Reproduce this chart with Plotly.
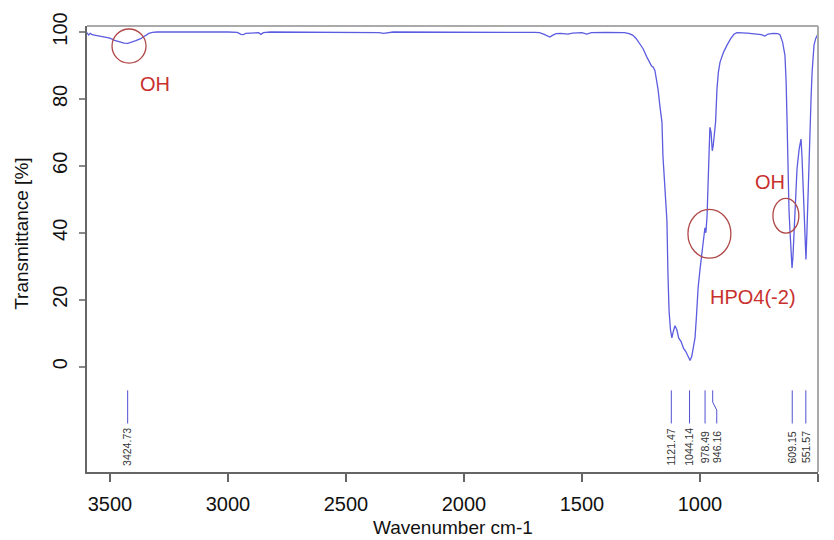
import plotly.graph_objects as go

# Spectrum (wavenumber cm-1, transmittance %)
wavenumber = [3597, 3590, 3583, 3575, 3560, 3540, 3520, 3500, 3480, 3460, 3440, 3424, 3410, 3390,
              3370, 3350, 3335, 3320, 3300, 3000, 2960, 2945, 2935, 2925, 2900, 2870, 2860, 2850,
              2820, 2400, 2360, 2340, 2320, 2300, 1700, 1680, 1660, 1645, 1636, 1625, 1610, 1590,
              1560, 1540, 1500, 1480, 1460, 1400, 1320, 1300, 1284, 1270, 1255, 1241, 1225, 1212,
              1205, 1198, 1191, 1185, 1178, 1170, 1161, 1157, 1148, 1140, 1136, 1131, 1125, 1119,
              1113, 1106, 1098, 1090, 1080, 1070, 1060, 1050, 1042, 1035, 1028, 1021, 1015, 1008,
              1000, 992, 985, 979, 975, 970, 966, 962, 958, 953, 948, 944, 940, 934, 928, 922, 915,
              900, 886, 870, 855, 843, 800, 760, 740, 725, 712, 690, 670, 661, 650, 640, 635, 631,
              627, 623, 619, 614, 610, 606, 601, 597, 589, 580, 576, 572, 568, 563, 558, 554, 551,
              547, 542, 538, 534, 529, 525, 521, 517, 510, 504, 500]
transmittance = [99.8, 99.1, 99.6, 99.2, 99.0, 98.8, 98.6, 98.2, 97.5, 97.0, 96.7, 96.6, 96.9, 97.4,
                 98.0, 98.8, 99.6, 99.9, 100.0, 100.0, 99.9, 99.3, 99.2, 99.6, 99.7, 99.8, 99.3, 99.8,
                 100.0, 100.0, 99.8, 99.6, 99.9, 100.0, 99.9, 99.8, 99.3, 98.8, 98.5, 99.0, 99.5, 99.6,
                 99.4, 99.7, 99.8, 99.4, 99.8, 99.9, 99.8, 99.5, 99.0, 98.0, 96.5, 95.0, 92.5, 90.5,
                 89.8, 89.5, 88.5, 86.0, 83.0, 78.0, 73.0, 63.0, 53.0, 43.5, 28.6, 16.7, 11.0, 8.6,
                 10.5, 12.2, 11.0, 8.5, 7.5, 5.5, 4.5, 3.0, 1.8, 3.0, 5.5, 8.6, 15.0, 23.5,
                 29.0, 33.6, 38.0, 41.5, 40.0, 45.0, 54.0, 63.4, 71.5, 70.0, 64.5, 66.0, 70.0, 73.0, 83.0, 88.0, 91.0,
                 94.0, 96.0, 98.0, 99.4, 99.8, 99.7, 99.5, 99.2, 98.8, 99.4, 99.6, 99.5, 99.2, 97.0, 93.0, 85.0, 73.0,
                 53.0, 47.0, 41.0, 35.0, 29.5, 33.0, 40.0, 47.0, 59.0, 65.0, 67.3, 68.0, 63.0, 53.0, 42.0, 35.0, 32.0,
                 40.0, 53.0, 63.0, 73.0, 81.0, 88.0, 93.0, 96.0, 98.0, 99.0, 99.5]

# Peak picks
peak_positions = [3424.73, 1121.47, 1044.14, 978.49, 946.16, 609.15, 551.57]
peak_label_positions = [3424.73, 1121.47, 1044.14, 978.49, 929.0, 609.15, 551.57]
peak_labels = ["3424.73", "1121.47", "1044.14", "978.49", "946.16", "609.15", "551.57"]

# Band annotations (circles): center wn, center T, half-width wn, half-height T
circle_centers_x = [3419, 960, 636]
circle_centers_y = [95.8, 39.7, 45.1]
circle_half_w = [72, 91, 55]
circle_half_h = [5.1, 7.3, 5.2]
band_texts = ["OH", "HPO4(-2)", "OH"]
band_text_x = [3307, 775, 703]
band_text_y = [84.5, 20.8, 55.2]

x_ticks = [3500, 3000, 2500, 2000, 1500, 1000, 500]
y_ticks = [0, 20, 40, 60, 80, 100]

FONT = "Liberation Sans, Arial, sans-serif"
LINE_TOP, LINE_BOT, LABEL_Y = -7.1, -17.0, -24.1

fig = go.Figure()
fig.add_trace(go.Scatter(x=wavenumber, y=transmittance, mode="lines",
                         line=dict(color="#5c5ce0", width=1.3), hoverinfo="x+y"))

# peak marker lines
for p, lp in zip(peak_positions, peak_label_positions):
    if abs(p - lp) < 1e-6:
        xs, ys = [p, p], [LINE_TOP, LINE_BOT]
    else:
        xs, ys = [p, p, lp, lp], [LINE_TOP, -10.6, -13.0, LINE_BOT]
    fig.add_trace(go.Scatter(x=xs, y=ys, mode="lines",
                             line=dict(color="#5050d0", width=1), hoverinfo="skip"))

for lp, lab in zip(peak_label_positions, peak_labels):
    fig.add_annotation(x=lp, y=LABEL_Y, text=lab, textangle=-90, showarrow=False,
                       font=dict(family=FONT, size=10.5, color="#333333"))

for cx, cy, hw, hh in zip(circle_centers_x, circle_centers_y, circle_half_w, circle_half_h):
    fig.add_shape(type="circle", xref="x", yref="y", x0=cx - hw, x1=cx + hw,
                  y0=cy - hh, y1=cy + hh, line=dict(color="#b04848", width=1.3))

for t, tx, ty in zip(band_texts, band_text_x, band_text_y):
    fig.add_annotation(x=tx, y=ty, text=t, showarrow=False,
                       font=dict(family=FONT, size=20, color="#c8302e"))

# top and right frame lines
fig.add_shape(type="line", xref="paper", yref="paper", x0=0, x1=1, y0=1, y1=1,
              line=dict(color="#aaaaaa", width=2))
fig.add_shape(type="line", xref="paper", yref="paper", x0=1, x1=1, y0=0, y1=1,
              line=dict(color="#aaaaaa", width=2))

# axis titles
fig.add_annotation(xref="paper", yref="paper", x=0.5, y=0, yshift=-55, yanchor="middle",
                   text="Wavenumber cm-1",
                   showarrow=False, font=dict(family=FONT, size=19, color="#111111"))
fig.add_annotation(xref="paper", yref="paper", x=0, xshift=-65, xanchor="center", y=0.534,
                   text="Transmittance [%]",
                   textangle=-90, showarrow=False, font=dict(family=FONT, size=19, color="#111111"))

fig.update_layout(
    width=834, height=540,
    margin=dict(l=87, r=16, t=24, b=68),
    paper_bgcolor="white", plot_bgcolor="white",
    showlegend=False,
    font=dict(family=FONT, size=19, color="#111111"),
    xaxis=dict(range=[3597, 500], tickvals=x_ticks, ticktext=[str(v) for v in x_ticks],
               showgrid=False, zeroline=False, showline=True, linecolor="#666666", linewidth=2,
               ticks="outside", ticklen=8, tickcolor="#666666", tickwidth=1.5,
               ticklabelstandoff=5,
               tickfont=dict(family=FONT, size=20, color="#111111")),
    yaxis=dict(range=[-31.5, 101.8], tickvals=y_ticks, ticktext=[str(v) for v in y_ticks],
               showgrid=False, zeroline=False, showline=True, linecolor="#666666", linewidth=2,
               ticks="outside", ticklen=6, tickcolor="#888888", tickwidth=1.5, tickangle=-90,
               ticklabelstandoff=4,
               tickfont=dict(family=FONT, size=20, color="#111111")),
)

fig.write_html("out.html")
